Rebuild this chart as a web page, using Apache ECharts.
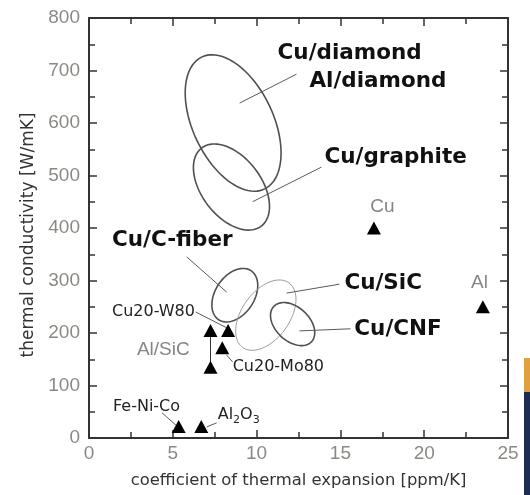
<!DOCTYPE html>
<html lang="en">
<head>
    <meta charset="UTF-8">
    <title>thermal conductivity vs CTE</title>
    <script src="https://cdn.jsdelivr.net/npm/echarts@6/dist/echarts.min.js"></script>
    <style>
        *{margin:0;padding:0;box-sizing:border-box;}
        html,body{width:530px;height:495px;background:#fff;}
        #main{width:530px;height:495px;}
    </style>
</head>
<body>
<div id="main"></div>
<script>
    // materials (triangles)
    var pointNames = ['Cu', 'Al', 'Al/SiC', 'Al/SiC', 'Cu20-W80', 'Cu20-Mo80', 'Fe-Ni-Co', 'Al2O3'];
    var pointCTE   = [17, 23.5, 7.25, 7.25, 8.3, 7.95, 5.35, 6.7];
    var pointK     = [400, 250, 205, 135, 205, 172, 22, 22];

    // composite regions (ellipses): centre, half range in CTE / in K, correlation
    var regionNames = ['Cu/diamond', 'Cu/graphite', 'Cu/C-fiber', 'Cu/SiC', 'Cu/CNF'];
    var regionCTE   = [8.6, 8.5, 8.7, 10.55, 12.15];
    var regionK     = [600, 478, 272, 234, 217];
    var regionHalfCTE = [2.86, 2.27, 1.37, 1.8, 1.32];
    var regionHalfK   = [130, 82, 51, 67, 41];
    var regionCorr    = [-0.44, -0.45, 0.36, 0.45, -0.4];

    // annotation text and where it sits (data units, left edge / middle)
    var labelText = ['Cu/diamond', 'Al/diamond', 'Cu/graphite', 'Cu/C-fiber', 'Cu/SiC', 'Cu/CNF',
                     'Cu20-W80', 'Cu20-Mo80', 'Fe-Ni-Co', 'Al2O3', 'Cu', 'Al', 'Al/SiC'];
    var labelKind = ['bold', 'bold', 'bold', 'bold', 'bold', 'bold',
                     'plain', 'plain', 'plain', 'sub', 'gray', 'gray', 'gray'];
    var labelCTE  = [11.25, 13.15, 14.05, 1.37, 15.24, 15.83, 1.37, 8.57, 1.43, 7.68, 17.5, 23.3, 2.86];
    var labelK    = [733, 680, 535, 377, 295, 206, 240, 135, 59, 44, 440, 295, 168];

    // leader lines [x1, y1, x2, y2]
    var leaders = [
        [8.99, 638, 12.38, 693],
        [9.76, 450, 13.87, 516],
        [5.83, 345, 8.21, 278],
        [11.79, 276, 14.94, 293],
        [12.56, 204, 15.6, 208],
        [6.37, 240, 8.21, 210],
        [8.21, 158, 8.57, 145],
        [4.35, 48, 5.24, 23],
        [7.62, 29, 7.02, 21]
    ];

    var xTicks = {min: 0, max: 25, step: 5};
    var yTicks = {min: 0, max: 800, step: 100};

    var myChart = echarts.init(document.getElementById('main'));

    function regionItem(params, api) {
        var cx = api.value(0), cy = api.value(1), hx = api.value(2), hy = api.value(3);
        var d = Math.acos(api.value(4));
        var pts = [];
        for (var i = 0; i <= 90; i++) {
            var t = i / 90 * Math.PI * 2;
            pts.push(api.coord([cx + hx * Math.cos(t), cy + hy * Math.cos(t - d)]));
        }
        var light = regionNames[params.dataIndex] === 'Cu/SiC';
        return {
            type: 'polyline',
            shape: {points: pts},
            style: {fill: null, stroke: light ? '#9a9a9a' : '#505050', lineWidth: light ? 1 : 1.6}
        };
    }

    function leaderItem(params, api) {
        var a = api.coord([api.value(0), api.value(1)]);
        var b = api.coord([api.value(2), api.value(3)]);
        return {
            type: 'line',
            shape: {x1: a[0], y1: a[1], x2: b[0], y2: b[1]},
            style: {stroke: '#5a5a5a', lineWidth: 1}
        };
    }

    function labelItem(params, api) {
        var p = api.coord([api.value(0), api.value(1)]);
        var kind = labelKind[params.dataIndex];
        var txt = labelText[params.dataIndex];
        var style = {text: txt, x: p[0], y: p[1], align: 'left', verticalAlign: 'middle'};
        if (kind === 'bold') {
            style.font = 'bold 21.5px "DejaVu Sans"';
            style.fill = '#111';
        } else if (kind === 'plain') {
            style.font = '16px "DejaVu Sans"';
            style.fill = '#222';
        } else if (kind === 'sub') {
            style.text = 'Al{s|2}O{s|3}';
            style.font = '16px "DejaVu Sans"';
            style.fill = '#222';
            style.rich = {s: {fontSize: 11, fontFamily: 'DejaVu Sans', fill: '#222', padding: [10, 0, 0, 0]}};
        } else {
            style.font = '19px "Liberation Sans"';
            style.fill = '#858585';
            if (txt !== 'Al/SiC') style.align = 'center';
        }
        return {type: 'text', style: style};
    }

    var tickLine = {color: '#333', width: 1.5};
    function xAxisBase(pos, labels) {
        return {
            type: 'value', position: pos, min: xTicks.min, max: xTicks.max, interval: xTicks.step,
            axisLine: {onZero: false, lineStyle: {color: '#333', width: 2}},
            axisTick: {inside: true, length: 8, lineStyle: tickLine},
            minorTick: {show: true, splitNumber: 2, length: 6, lineStyle: tickLine},
            axisLabel: {show: labels, fontSize: 19, color: '#8a8a84', margin: 6, fontFamily: 'Liberation Sans'},
            splitLine: {show: false}
        };
    }
    function yAxisBase(pos, labels) {
        return {
            type: 'value', position: pos, min: yTicks.min, max: yTicks.max, interval: yTicks.step,
            axisLine: {onZero: false, lineStyle: {color: '#333', width: 2}},
            axisTick: {inside: true, length: 8, lineStyle: tickLine},
            minorTick: {show: true, splitNumber: 2, length: 6, lineStyle: tickLine},
            axisLabel: {show: labels, fontSize: 19, color: '#8a8a84', margin: 9, fontFamily: 'Liberation Sans'},
            splitLine: {show: false}
        };
    }

    var xMain = xAxisBase('bottom', true);
    xMain.name = 'coefficient of thermal expansion [ppm/K]';
    xMain.nameLocation = 'middle';
    xMain.nameGap = 35;
    xMain.nameTextStyle = {fontSize: 16.4, color: '#333', fontFamily: 'DejaVu Sans'};
    var yMain = yAxisBase('left', true);
    yMain.name = 'thermal conductivity [W/mK]';
    yMain.nameLocation = 'middle';
    yMain.nameGap = 48;
    yMain.nameTextStyle = {fontSize: 17, color: '#333', fontFamily: 'DejaVu Sans', padding: [0, 14, 0, 0]};

    var option = {
        animation: false,
        grid: {left: 89, right: 22, top: 18, bottom: 57},
        xAxis: [xMain, xAxisBase('top', false)],
        yAxis: [yMain, yAxisBase('right', false)],
        graphic: [
            {type: 'rect', left: 524, top: 358, shape: {width: 6, height: 34}, style: {fill: '#e0a040'}},
            {type: 'rect', left: 524, top: 392, shape: {width: 6, height: 103}, style: {fill: '#1c2c52'}}
        ],
        series: [
            {
                type: 'custom', renderItem: regionItem, z: 3,
                encode: {x: 0, y: 1},
                data: regionNames.map(function (n, i) {
                    return [regionCTE[i], regionK[i], regionHalfCTE[i], regionHalfK[i], regionCorr[i]];
                })
            },
            {
                type: 'custom', renderItem: leaderItem, z: 3,
                encode: {x: [0, 2], y: [1, 3]},
                data: leaders
            },
            {
                type: 'line', symbol: 'none', z: 4,
                lineStyle: {color: '#333', width: 1},
                data: [[pointCTE[2], pointK[2]], [pointCTE[3], pointK[3]]]
            },
            {
                type: 'scatter', symbol: 'triangle', symbolSize: [14, 13], z: 5,
                itemStyle: {color: '#000', opacity: 1},
                data: pointNames.map(function (n, i) { return [pointCTE[i], pointK[i]]; })
            },
            {
                type: 'custom', renderItem: labelItem, z: 6,
                encode: {x: 0, y: 1},
                data: labelText.map(function (n, i) { return [labelCTE[i], labelK[i]]; })
            }
        ]
    };
    myChart.setOption(option);
</script>
</body>
</html>
